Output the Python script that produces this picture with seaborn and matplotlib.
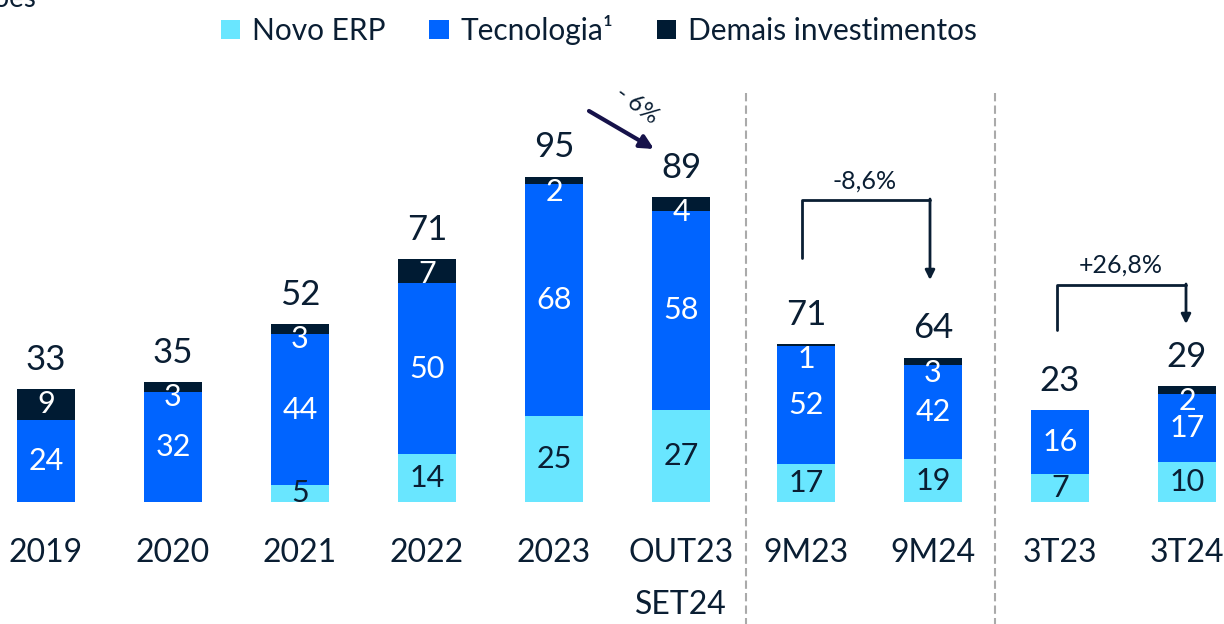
import matplotlib
matplotlib.use("Agg")
import matplotlib.pyplot as plt
import seaborn as sns
import numpy as np
from matplotlib.patches import Patch

# ---------------- data ----------------
categories = ["2019", "2020", "2021", "2022", "2023", "OUT23\nSET24", "9M23", "9M24", "3T23", "3T24"]
novo_erp = [0, 0, 5, 14, 25, 27, 17, 19, 7, 10]
tecnologia = [24, 32, 44, 50, 68, 58, 52, 42, 16, 17]
demais = [9, 3, 3, 7, 2, 4, 1, 3, 0, 2]
totais = [33, 35, 52, 71, 95, 89, 71, 64, 23, 29]
series_names = ["Novo ERP", "Tecnologia\u00b9", "Demais investimentos"]
variacoes = ["- 6%", "-8,6%", "+26,8%"]
unit_label = "R$ milhões"

# ---------------- style ----------------
C_ERP = "#69E6FF"
C_TEC = "#0064FF"
C_DEM = "#001B33"
C_TXT = "#0A1E33"
C_ARROW = "#16124A"

sns.set_theme(style="white")
plt.rcParams["font.family"] = ["Lato", "DejaVu Sans"]

W, H = 1224, 624
fig = plt.figure(figsize=(W / 100, H / 100), dpi=100)
fig.patch.set_facecolor("white")

def fx(px):
    return px / W

def fy(py):
    return 1 - py / H

base_py, top_py = 502, 40
step = 127
panels = [
    dict(idx=(0, 6), px=(0, 746), first=46, ymax=135.0),
    dict(idx=(6, 8), px=(746, 995), first=806, ymax=205.0),
    dict(idx=(8, 10), px=(995, 1224), first=1060, ymax=115.5),
]
bar_w = 58 / step

for p in panels:
    a, b = p["idx"]
    l, r = p["px"]
    ax = fig.add_axes([fx(l), fy(base_py), fx(r - l), (base_py - top_py) / H])
    ax.patch.set_alpha(0)
    cats = categories[a:b]
    erp = np.array(novo_erp[a:b], dtype=float)
    tec = np.array(tecnologia[a:b], dtype=float)
    dem = np.array(demais[a:b], dtype=float)
    tot = totais[a:b]
    s_all = erp + tec + dem
    s_two = erp + tec
    sns.barplot(x=cats, y=s_all, color=C_DEM, saturation=1, width=bar_w, ax=ax, linewidth=0)
    sns.barplot(x=cats, y=s_two, color=C_TEC, saturation=1, width=bar_w, ax=ax, linewidth=0)
    sns.barplot(x=cats, y=erp, color=C_ERP, saturation=1, width=bar_w, ax=ax, linewidth=0)
    n = b - a
    ax.set_xlim((l - p["first"]) / step, (r - p["first"]) / step)
    ax.set_ylim(0, p["ymax"])
    ax.set_yticks([])
    ax.set_ylabel("")
    ax.set_xticks(range(n))
    ax.set_xticklabels(cats, fontsize=23, color=C_TXT, linespacing=1.9)
    ax.tick_params(axis="x", length=0, pad=26)
    for sp in ax.spines.values():
        sp.set_visible(False)
    for j in range(n):
        ax.annotate(str(tot[j]), xy=(j, s_all[j]), xytext=(0, 14), textcoords="offset points",
                    ha="center", va="baseline", fontsize=25, color=C_TXT)
        if tec[j] > 0:
            ax.text(j, erp[j] + tec[j] / 2, f"{int(tec[j])}", ha="center", va="center",
                    fontsize=22, color="white")
        if erp[j] > 0:
            ax.text(j, erp[j] / 2, f"{int(erp[j])}", ha="center", va="center",
                    fontsize=22, color=C_TXT)
        if dem[j] > 0:
            ax.annotate(f"{int(dem[j])}", xy=(j, s_all[j]), xytext=(0, -15), textcoords="offset pixels",
                        ha="center", va="center", fontsize=22, color="white")

# overlay in pixel coordinates for annotations
ov = fig.add_axes([0, 0, 1, 1], zorder=10)
ov.set_xlim(0, W)
ov.set_ylim(H, 0)
ov.axis("off")
ov.patch.set_alpha(0)

# separators
for xs in (746, 995):
    ov.plot([xs, xs], [93, H], color="#AAAAAA", lw=1.5, ls=(0, (4, 2)))

# -6% arrow
ov.annotate("", xy=(654, 149), xytext=(589, 111),
            arrowprops=dict(arrowstyle="-|>", color=C_ARROW, lw=3, mutation_scale=20,
                            shrinkA=0, shrinkB=0))
ov.text(637, 105, variacoes[0], rotation=-37, ha="center", va="center", fontsize=17, color=C_TXT)

# 9M bracket
ov.plot([802, 802, 930], [258, 200, 200], color=C_TXT, lw=2)
ov.annotate("", xy=(930, 280), xytext=(930, 199),
            arrowprops=dict(arrowstyle="-|>", color=C_TXT, lw=2, mutation_scale=14,
                            shrinkA=0, shrinkB=0))
ov.text(865, 181, variacoes[1], ha="center", va="center", fontsize=18, color=C_TXT)

# 3T bracket
ov.plot([1057, 1057, 1186], [330, 285, 285], color=C_TXT, lw=2)
ov.annotate("", xy=(1186, 324), xytext=(1186, 284),
            arrowprops=dict(arrowstyle="-|>", color=C_TXT, lw=2, mutation_scale=14,
                            shrinkA=0, shrinkB=0))
ov.text(1121, 265, variacoes[2], ha="center", va="center", fontsize=18, color=C_TXT)

# unit label (cut at the top)
ov.text(36, 7, unit_label, ha="right", va="baseline", fontsize=20, color=C_TXT)

# legend
handles = [Patch(facecolor=c, edgecolor="none") for c in (C_ERP, C_TEC, C_DEM)]
fig.legend(handles, series_names, loc="center", bbox_to_anchor=(fx(599), fy(30)), ncol=3,
           frameon=False, fontsize=21.5, handlelength=0.65, handleheight=0.65,
           handletextpad=0.4, columnspacing=1.45, labelcolor=C_TXT)

fig.savefig("out.png", dpi=100, facecolor="white")
